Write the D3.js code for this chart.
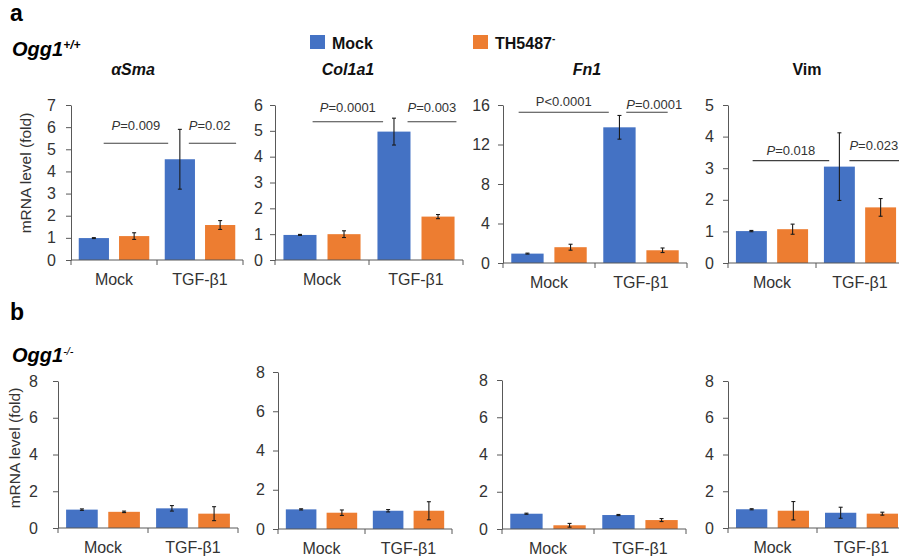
<!DOCTYPE html>
<html>
<head>
<meta charset="utf-8">
<script src="https://cdn.jsdelivr.net/npm/d3@7"></script>
<style>
  html, body { margin: 0; padding: 0; background: #fff; }
  svg { display: block; font-family: "Liberation Sans", Arial, sans-serif; }
</style>
</head>
<body>
<script>
// chart data
var categories  = ["Mock", "TGF-\u03b21"];
var seriesNames = ["Mock", "TH5487"];
var genes       = ["\u03b1Sma", "Col1a1", "Fn1", "Vim"];
var geneItalic  = [true, true, true, false];

// Ogg1+/+ : [Mock, TGF-b1] per gene
var wtMockMean = [[0.99, 4.55], [0.97, 4.97], [0.95, 13.74], [1.01, 3.05]];
var wtMockErr  = [[0.02, 1.35], [0.02, 0.52], [0.05, 1.2],  [0.02, 1.07]];
var wtThMean   = [[1.08, 1.58], [1.0, 1.68],  [1.6, 1.29],   [1.07, 1.76]];
var wtThErr    = [[0.15, 0.2],  [0.13, 0.08], [0.3, 0.23],   [0.16, 0.28]];

// Ogg1-/-
var koMockMean = [[1.0, 1.07],  [1.0, 0.93],  [0.82, 0.75], [1.02, 0.83]];
var koMockErr  = [[0.04, 0.15], [0.03, 0.06], [0.03, 0.03], [0.03, 0.3]];
var koThMean   = [[0.88, 0.78], [0.83, 0.93], [0.2, 0.48],  [0.94, 0.78]];
var koThErr    = [[0.04, 0.38], [0.14, 0.46], [0.1, 0.08],  [0.5, 0.08]];

// axes
var yMaxA   = [7, 6, 16, 5];
var yTicksA = [[0, 1, 2, 3, 4, 5, 6, 7], [0, 1, 2, 3, 4, 5, 6], [0, 4, 8, 12, 16], [0, 1, 2, 3, 4, 5]];
var yMaxB   = 8;
var yTicksB = [0, 2, 4, 6, 8];

// p-value annotations (row a)
var pLabels = [["=0.009", "=0.02"], ["=0.0001", "=0.003"], ["<0.0001", "=0.0001"], ["=0.018", "=0.023"]];
var pItalic = [[true, true], [true, true], [false, true], [true, true]];

// layout -------------------------------------------------------------
var W = 899, H = 556;
var colors = ["#4472C4", "#ED7D31"];

// ax: y-axis x, y0: pixel of zero, yTop: pixel of max, cw: category width
var layoutA = [
  {ax: 71,  y0: 260, yTop: 105, cw: 86, pad: 10, titleX: 133},
  {ax: 275, y0: 260, yTop: 105, cw: 94, pad: 7,  titleX: 348},
  {ax: 503, y0: 263, yTop: 105, cw: 92, pad: 8,  titleX: 587},
  {ax: 728, y0: 263, yTop: 105, cw: 88, pad: 9,  titleX: 807}
];
var layoutB = [
  {ax: 58,  y0: 528, yTop: 381, cw: 90, pad: 15},
  {ax: 278, y0: 529, yTop: 372, cw: 87, pad: 8},
  {ax: 502, y0: 529, yTop: 380, cw: 92, pad: 9},
  {ax: 728, y0: 528, yTop: 381, cw: 89, pad: 9}
];
// bracket spans in category units (0..2), line level in data units, text gap px
var bracketA = [
  {spans: [[0.38, 1.13], [1.37, 1.92]], level: 5.27,  gap: [13, 13]},
  {spans: [[0.40, 1.15], [1.41, 1.93]], level: 5.35,  gap: [10, 10]},
  {spans: [[0.17, 1.15], [1.34, 1.79]], level: 15.26, gap: [6, 3]},
  {spans: [[0.28, 1.15], [1.38, 1.99]], level: 3.24,  gap: [6, 11]}
];

var svg = d3.select("body").append("svg")
    .attr("width", W)
    .attr("height", H);

// Draw Panel
//
// @param {object} L - layout for the panel
// @param {int} yMax - top of y domain
// @param {array} ticks - y tick values
// @param {array} means - [mockSeries, thSeries] each [Mock, TGF]
// @param {array} errs - same shape as means
// @return {object} scales {x, y}
function draw_panel(L, yMax, ticks, means, errs) {
  var g = svg.append("g");

  var y = d3.scaleLinear().domain([0, yMax]).range([L.y0, L.yTop]);
  var xc = d3.scaleBand().domain(categories).range([L.ax, L.ax + 2 * L.cw]);
  var xs = d3.scaleBand().domain(seriesNames)
      .range([0.09 * L.cw, 0.91 * L.cw])
      .paddingInner(0.25);
  var xu = d3.scaleLinear().domain([0, 2]).range([L.ax, L.ax + 2 * L.cw]);

  var rows = [];
  categories.forEach(function(c, ci) {
    seriesNames.forEach(function(s, si) {
      rows.push({c: c, s: s, si: si, v: means[si][ci], e: errs[si][ci]});
    });
  });

  g.selectAll("rect.bar")
    .data(rows)
    .enter().append("rect")
      .attr("class", "bar")
      .attr("x", function(d) { return xc(d.c) + xs(d.s); })
      .attr("width", xs.bandwidth())
      .attr("y", function(d) { return y(d.v); })
      .attr("height", function(d) { return y(0) - y(d.v); })
      .attr("fill", function(d) { return colors[d.si]; });

  // error bars
  var eb = g.selectAll("g.err")
    .data(rows)
    .enter().append("g")
      .attr("class", "err")
      .attr("transform", function(d) { return "translate(" + (xc(d.c) + xs(d.s) + xs.bandwidth() / 2) + ",0)"; })
      .attr("stroke", "#1a1a1a")
      .attr("stroke-width", 1.1);
  eb.append("line")
      .attr("y1", function(d) { return y(d.v + d.e); })
      .attr("y2", function(d) { return y(d.v - d.e); });
  eb.append("line").attr("x1", -2).attr("x2", 2)
      .attr("y1", function(d) { return y(d.v + d.e); })
      .attr("y2", function(d) { return y(d.v + d.e); });
  eb.append("line").attr("x1", -2).attr("x2", 2)
      .attr("y1", function(d) { return y(d.v - d.e); })
      .attr("y2", function(d) { return y(d.v - d.e); });

  // y axis
  var ya = g.append("g")
      .attr("transform", "translate(" + L.ax + ",0)")
      .call(d3.axisLeft(y).tickValues(ticks).tickFormat(d3.format("d"))
        .tickSize(5).tickSizeOuter(0).tickPadding(L.pad));
  ya.attr("font-family", null).attr("font-size", 16);
  ya.selectAll("text").attr("fill", "#333");
  ya.selectAll("line, path").attr("stroke", "#595959");

  // x axis: line + boundary ticks + labels
  g.append("line")
      .attr("x1", xu(0)).attr("x2", xu(2))
      .attr("y1", y(0)).attr("y2", y(0))
      .attr("stroke", "#595959");
  g.selectAll("line.xt")
    .data([0, 1, 2])
    .enter().append("line")
      .attr("class", "xt")
      .attr("x1", function(d) { return xu(d); })
      .attr("x2", function(d) { return xu(d); })
      .attr("y1", y(0)).attr("y2", y(0) + 5)
      .attr("stroke", "#595959");
  var xa = g.append("g")
      .attr("transform", "translate(0," + y(0) + ")")
      .call(d3.axisBottom(xc).tickSize(0).tickPadding(14));
  xa.select(".domain").remove();
  xa.attr("font-family", null).attr("font-size", 16);
  xa.selectAll("text").attr("fill", "#333");

  return {x: xu, y: y};
}

// row a
genes.forEach(function(gene, i) {
  var L = layoutA[i];
  var sc = draw_panel(L, yMaxA[i], yTicksA[i],
      [wtMockMean[i], wtThMean[i]], [wtMockErr[i], wtThErr[i]]);

  svg.append("text")
      .attr("x", L.titleX).attr("y", 75)
      .attr("text-anchor", "middle")
      .attr("font-size", 16)
      .attr("font-weight", "bold")
      .attr("font-style", geneItalic[i] ? "italic" : "normal")
      .attr("fill", "#111")
      .text(gene);

  var B = bracketA[i];
  B.spans.forEach(function(sp, k) {
    var yl = sc.y(B.level);
    svg.append("line")
        .attr("x1", sc.x(sp[0])).attr("x2", sc.x(sp[1]))
        .attr("y1", yl).attr("y2", yl)
        .attr("stroke", "#404040").attr("stroke-width", 1.1);
    var t = svg.append("text")
        .attr("x", k == 0 ? (sc.x(sp[0]) + sc.x(sp[1])) / 2 : sc.x(sp[0]))
        .attr("y", yl - B.gap[k])
        .attr("text-anchor", k == 0 ? "middle" : "start")
        .attr("font-size", 13)
        .attr("fill", "#333");
    t.append("tspan")
        .attr("font-style", pItalic[i][k] ? "italic" : "normal")
        .text("P");
    t.append("tspan").text(pLabels[i][k]);
  });
});

// row b
genes.forEach(function(gene, i) {
  draw_panel(layoutB[i], yMaxB, yTicksB,
      [koMockMean[i], koThMean[i]], [koMockErr[i], koThErr[i]]);
});

// y labels
svg.append("text")
    .attr("transform", "translate(31,173) rotate(-90)")
    .attr("text-anchor", "middle")
    .attr("font-size", 15.5)
    .attr("fill", "#333")
    .text("mRNA level (fold)");
svg.append("text")
    .attr("transform", "translate(20,448) rotate(-90)")
    .attr("text-anchor", "middle")
    .attr("font-size", 15.5)
    .attr("fill", "#333")
    .text("mRNA level (fold)");

// panel letters and genotypes
svg.append("text").attr("x", 10).attr("y", 21)
    .attr("font-size", 23).attr("font-weight", "bold").text("a");
svg.append("text").attr("x", 10).attr("y", 320)
    .attr("font-size", 23).attr("font-weight", "bold").text("b");

var gA = svg.append("text").attr("x", 12).attr("y", 56)
    .attr("font-size", 20).attr("font-weight", "bold").attr("font-style", "italic");
gA.append("tspan").text("Ogg1");
gA.append("tspan").attr("font-size", 12).attr("dy", -7).text("+/+");

var gB = svg.append("text").attr("x", 12).attr("y", 362)
    .attr("font-size", 20).attr("font-weight", "bold").attr("font-style", "italic");
gB.append("tspan").text("Ogg1");
gB.append("tspan").attr("font-size", 11).attr("font-weight", "normal").attr("dy", -7).text("-/-");

// legend
var legX = [310, 473];
seriesNames.forEach(function(s, i) {
  svg.append("rect")
      .attr("x", legX[i]).attr("y", 35)
      .attr("width", 15).attr("height", 14)
      .attr("fill", colors[i]);
  var t = svg.append("text")
      .attr("x", legX[i] + 22).attr("y", 49)
      .attr("font-size", 16).attr("font-weight", "bold")
      .attr("fill", "#111");
  t.append("tspan").text(s);
  if (i == 1) t.append("tspan").attr("font-size", 10).attr("dy", -7).text("-");
});
</script>
</body>
</html>
